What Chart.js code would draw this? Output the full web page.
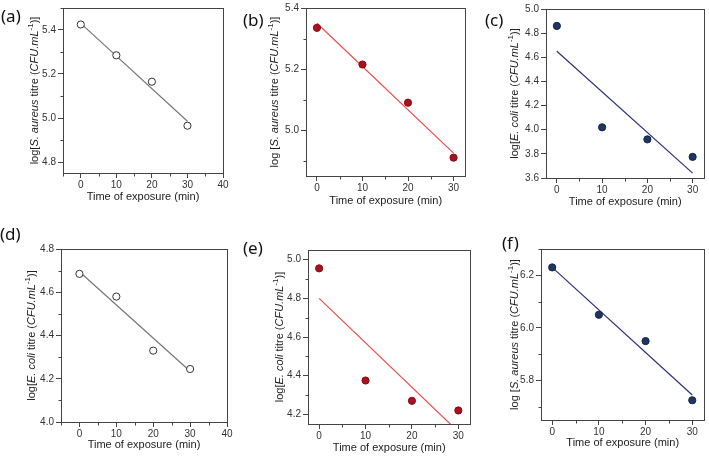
<!DOCTYPE html>
<html>
<head>
<meta charset="utf-8">
<script src="https://cdn.jsdelivr.net/npm/chart.js@4.4.1/dist/chart.umd.min.js"></script>
<style>
  body { margin: 0; background: #fff; }
  #wrap { position: relative; width: 709px; height: 457px; overflow: hidden; }
  .panel { position: absolute; }
  .lbl { position: absolute; font-family: "Noto Sans", sans-serif; font-size: 17px; line-height: 1; color: #111; }
</style>
</head>
<body>
<div id="wrap"></div>
<script>
// exposure times (min)
const time = [0, 10, 20, 30];
const fitTime = [0, 30];

// measured log titres
const aValues = [5.425, 5.285, 5.165, 4.965];
const bValues = [5.335, 5.215, 5.09, 4.91];
const cValues = [4.86, 4.02, 3.92, 3.775];
const dValues = [4.685, 4.58, 4.33, 4.245];
const eValues = [4.955, 4.375, 4.27, 4.22];
const fValues = [6.23, 6.05, 5.95, 5.725];

// linear fit ends at t = 0 and t = 30
const aFit = [5.43, 4.985];
const bFit = [5.35, 4.925];
const cFit = [4.65, 3.64];
const dFit = [4.695, 4.235];
const eFit = [4.8, 4.11];
const fFit = [6.23, 5.745];

// tick positions
const xTicksWide = [-5, 0, 5, 10, 15, 20, 25, 30, 35, 40];
const xTicksNarrow = [0, 5, 10, 15, 20, 25, 30];
const aYTicks = [4.8, 4.9, 5.0, 5.1, 5.2, 5.3, 5.4, 5.5];
const bYTicks = [4.9, 5.0, 5.1, 5.2, 5.3, 5.4];
const cYTicks = [3.6, 3.7, 3.8, 3.9, 4.0, 4.1, 4.2, 4.3, 4.4, 4.5, 4.6, 4.7, 4.8, 4.9, 5.0];
const dYTicks = [4.0, 4.1, 4.2, 4.3, 4.4, 4.5, 4.6, 4.7, 4.8];
const eYTicks = [4.2, 4.3, 4.4, 4.5, 4.6, 4.7, 4.8, 4.9, 5.0];
const fYTicks = [5.7, 5.8, 5.9, 6.0, 6.1, 6.2, 6.3];

const FONT = '"Liberation Sans", Arial, sans-serif';
const AXIS = '#444';

const styles = {
  open: { point: '#ffffff', pointBorder: '#333333', line: '#777777' },
  red: { point: '#ab101d', pointBorder: '#850b15', line: '#f24a4a' },
  navy: { point: '#1f3562', pointBorder: '#142347', line: '#2f2f75' },
};

const sAureus = (sp) => [
  { text: sp ? 'log [' : 'log[' }, { text: 'S. aureus', italic: true }, { text: ' titre (' },
  { text: 'CFU.mL', italic: true }, { text: '-1', sup: true }, { text: ')]' },
];
const eColi = [
  { text: 'log[' }, { text: 'E. coli', italic: true }, { text: ' titre (' },
  { text: 'CFU.mL', italic: true }, { text: '-1', sup: true }, { text: ')]' },
];

const panels = [
  { tag: '(a)', left: 0, top: 0, w: 235, h: 225, area: { left: 63, top: 5, right: 223, bottom: 173 },
    lbl: [1, 7], xTitleY: 197, yOff: 28, x: [-5, 40], xTicks: xTicksWide, y: [4.75, 5.5], yTicks: aYTicks,
    values: aValues, fit: aFit, style: 'open', title: sAureus(false) },
  { tag: '(b)', left: 235, top: 0, w: 235, h: 225, area: { left: 71, top: 5, right: 232, bottom: 176 },
    lbl: [8, 11], xTitleY: 201, yOff: 31, x: [-2.4, 32.6], xTicks: xTicksNarrow, y: [4.85, 5.4], yTicks: bYTicks,
    values: bValues, fit: bFit, style: 'red', title: sAureus(true) },
  { tag: '(c)', left: 470, top: 0, w: 239, h: 225, area: { left: 76, top: 9, right: 237, bottom: 178 },
    lbl: [15, 11], xTitleY: 202, yOff: 31, x: [-2.4, 32.6], xTicks: xTicksNarrow, y: [3.6, 5.0], yTicks: cYTicks,
    values: cValues, fit: cFit, style: 'navy', title: eColi },
  { tag: '(d)', left: 0, top: 225, w: 235, h: 232, area: { left: 61, top: 24, right: 227, bottom: 197 },
    lbl: [0, 0], xTitleY: 220, yOff: 29, x: [-5, 40], xTicks: xTicksWide, y: [4.0, 4.8], yTicks: dYTicks,
    values: dValues, fit: dFit, style: 'open', title: eColi },
  { tag: '(e)', left: 235, top: 225, w: 240, h: 232, area: { left: 73, top: 25, right: 237, bottom: 199 },
    lbl: [8, 14], xTitleY: 223, yOff: 28, x: [-2.4, 32.6], xTicks: xTicksNarrow, y: [4.15, 5.05], yTicks: eYTicks,
    values: eValues, fit: eFit, style: 'red', title: eColi },
  { tag: '(f)', left: 475, top: 225, w: 234, h: 232, area: { left: 66, top: 24, right: 230, bottom: 195 },
    lbl: [27, 9], xTitleY: 218, yOff: 26, x: [-2.4, 32.6], xTicks: xTicksNarrow, y: [5.65, 6.3], yTicks: fYTicks,
    values: fValues, fit: fFit, style: 'navy', title: sAureus(true) },
];

const isMajorX = (v) => v % 10 === 0;
const isMajorY = (v) => Math.round(v * 10) % 2 === 0;

// frame round the plot area, short minor ticks and the mixed-style y title
const framePlugin = {
  id: 'frame',
  afterDraw(chart, args, opts) {
    const { ctx, chartArea: a, scales } = chart;
    ctx.save();
    ctx.strokeStyle = AXIS;
    ctx.lineWidth = 1;
    const L = Math.round(a.left) + 0.5, T = Math.round(a.top) + 0.5;
    const R = Math.round(a.right) + 0.5, B = Math.round(a.bottom) + 0.5;
    ctx.strokeRect(L, T, R - L, B - T);

    ctx.beginPath();
    scales.x.ticks.forEach(t => {
      if (isMajorX(t.value)) return;
      const px = Math.round(scales.x.getPixelForValue(t.value)) + 0.5;
      ctx.moveTo(px, B);
      ctx.lineTo(px, B + 3);
    });
    scales.y.ticks.forEach(t => {
      if (isMajorY(t.value)) return;
      const py = Math.round(scales.y.getPixelForValue(t.value)) + 0.5;
      ctx.moveTo(L, py);
      ctx.lineTo(L - 3, py);
    });
    ctx.stroke();

    const parts = opts.parts;
    const fonts = parts.map(p => (p.italic ? 'italic ' : '') + (p.sup ? '8px ' : '11px ') + FONT);
    const widths = parts.map((p, i) => { ctx.font = fonts[i]; return ctx.measureText(p.text).width; });
    const total = widths.reduce((s, v) => s + v, 0);
    ctx.translate(a.left - opts.offset, (a.top + a.bottom) / 2);
    ctx.rotate(-Math.PI / 2);
    ctx.fillStyle = '#222';
    ctx.textBaseline = 'middle';
    let x = -total / 2;
    parts.forEach((p, i) => {
      ctx.font = fonts[i];
      ctx.fillText(p.text, x, p.sup ? -4 : 0);
      x += widths[i];
    });
    ctx.restore();
  }
};

const wrap = document.getElementById('wrap');

panels.forEach(p => {
  const box = document.createElement('div');
  box.className = 'panel';
  box.style.left = p.left + 'px';
  box.style.top = p.top + 'px';
  box.style.width = p.w + 'px';
  box.style.height = p.h + 'px';
  const canvas = document.createElement('canvas');
  box.appendChild(canvas);
  wrap.appendChild(box);

  const lbl = document.createElement('div');
  lbl.className = 'lbl';
  lbl.textContent = p.tag;
  lbl.style.left = (p.left + p.lbl[0]) + 'px';
  lbl.style.top = (p.top + p.lbl[1]) + 'px';
  wrap.appendChild(lbl);

  const st = styles[p.style];
  const titleLine = 11 * 1.2;

  new Chart(canvas, {
    type: 'scatter',
    data: {
      datasets: [
        {
          data: time.map((t, i) => ({ x: t, y: p.values[i] })),
          pointRadius: 3.6,
          pointHoverRadius: 3.6,
          pointBackgroundColor: st.point,
          pointBorderColor: st.pointBorder,
          pointBorderWidth: 1,
        },
        {
          data: fitTime.map((t, i) => ({ x: t, y: p.fit[i] })),
          showLine: true,
          pointRadius: 0,
          borderColor: st.line,
          borderWidth: 1.2,
        },
      ],
    },
    options: {
      responsive: true,
      maintainAspectRatio: false,
      animation: false,
      layout: { padding: { top: p.area.top, right: p.w - p.area.right, left: 0, bottom: 0 } },
      plugins: {
        legend: { display: false },
        tooltip: { enabled: false },
        frame: { parts: p.title, offset: p.yOff },
      },
      scales: {
        x: {
          type: 'linear',
          min: p.x[0],
          max: p.x[1],
          afterBuildTicks: (s) => { s.ticks = p.xTicks.map(v => ({ value: v })); },
          afterFit: (s) => { s.height = p.h - p.area.bottom; },
          border: { display: false },
          grid: {
            drawOnChartArea: false,
            tickLength: 5,
            tickColor: (c) => (c.tick && isMajorX(c.tick.value) ? AXIS : 'rgba(0,0,0,0)'),
          },
          ticks: {
            padding: 1,
            color: '#333',
            font: { family: FONT, size: 10 },
            maxRotation: 0,
            callback: (v) => (isMajorX(v) ? String(v) : ''),
          },
          title: {
            display: true,
            text: 'Time of exposure (min)',
            color: '#222',
            font: { family: FONT, size: 11 },
            padding: { top: 0, bottom: (p.h - p.xTitleY) - titleLine / 2 },
          },
        },
        y: {
          min: p.y[0],
          max: p.y[1],
          afterBuildTicks: (s) => { s.ticks = p.yTicks.map(v => ({ value: v })); },
          afterFit: (s) => { s.width = p.area.left; },
          border: { display: false },
          grid: {
            drawOnChartArea: false,
            tickLength: 5,
            tickColor: (c) => (c.tick && isMajorY(c.tick.value) ? AXIS : 'rgba(0,0,0,0)'),
          },
          ticks: {
            padding: 2,
            color: '#333',
            font: { family: FONT, size: 10 },
            callback: (v) => (isMajorY(v) ? v.toFixed(1) : ''),
          },
        },
      },
    },
    plugins: [framePlugin],
  });
});
</script>
</body>
</html>
